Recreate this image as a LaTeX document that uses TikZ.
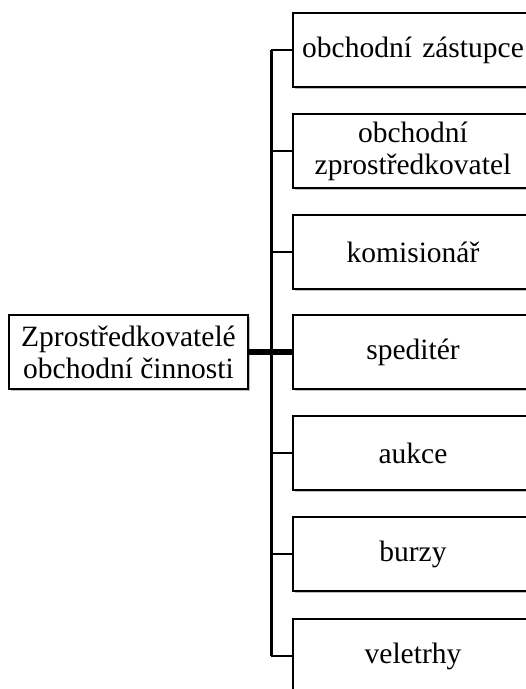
\documentclass[tikz,border=0pt]{standalone}
\usepackage{fontspec}
\setmainfont{Liberation Serif}
\usetikzlibrary{shadows}
\begin{document}
\begin{tikzpicture}[x=1pt,y=1pt,
  box/.style={draw=black, line width=2pt, fill=white, align=center,
    font=\fontsize{29.5}{32}\selectfont, inner sep=0pt,
    drop shadow={shadow xshift=2pt, shadow yshift=-2pt, fill=black, opacity=0.25}},
  leaf/.style={box, minimum width=240pt, minimum height=74pt, anchor=west},
  branch/.style={line width=2.2pt},
  trunkline/.style={line width=3pt},
  mainline/.style={line width=5.5pt}]
\useasboundingbox (0,0) rectangle (526,689);
\clip (0,0) rectangle (526,689);

% left source box
\node[box, minimum width=239pt, minimum height=74pt] (src) at (128.5,337)
  {Zprostředkovatelé\\obchodní činnosti};

% right-hand boxes (their right edges run past the page edge)
\node[leaf] (r1) at (292,639) {obchodní\hspace{0.35em}zástupce};
\node[leaf] (r2) at (292,538) {obchodní\\zprostředkovatel};
\node[leaf] (r3) at (292,437) {komisionář};
\node[leaf] (r4) at (292,337) {speditér};
\node[leaf] (r5) at (292,236) {aukce};
\node[leaf] (r6) at (292,135) {burzy};
\node[leaf] (r7) at (292,33) {veletrhy};

% vertical trunk
\coordinate (trunk) at (271,0);
\draw[trunkline] (r1.west -| trunk) -- (r7.west -| trunk);

% branches to each box
\foreach \n in {r1,r2,r3,r5,r6,r7}
  \draw[branch] (\n.west -| trunk) -- (\n.west);

% thick main connector
\draw[mainline] (src.east) -- (r4.west);
\end{tikzpicture}
\end{document}
